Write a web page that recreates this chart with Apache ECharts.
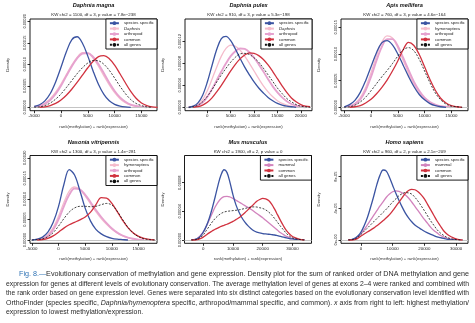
<!DOCTYPE html>
<html>
<head>
<meta charset="utf-8">
<script src="https://cdn.jsdelivr.net/npm/echarts@6/dist/echarts.min.js"></script>
<style>
  html, body { margin: 0; padding: 0; background: #fff; }
  #chart { width: 475px; height: 323px; }
</style>
</head>
<body>
<div id="chart"></div>
<script>
// Density values are stored in units of 1e-5.
const DENSITY_UNIT = 1e-5;

// Sample points along rank(methylation) + rank(expression)
const xSmall = [-5000,-4000,-3000,-2000,-1000,0,1000,2000,3000,4000,5000,6000,7000,8000,9000,10000,11000,12000,13000,14000,15000,16000,17000,18000];
const xPulex = [-4000,-3000,-2000,-1000,0,1000,2000,3000,4000,5000,6000,7000,8000,9000,10000,11000,12000,13000,14000,15000,16000,17000,18000,19000,20000,21000,22000];
const xMus = [-4000,-3000,-2000,-1000,0,1000,2000,3000,4000,5000,6000,7000,8000,9000,10000,11000,12000,13000,14000,15000,16000,17000,18000,19000,20000,21000,22000,23000,24000,25000,26000,27000,28000,29000,30000,31000,32000,33000,34000];
const xHomo = [-4000,-3000,-2000,-1000,0,1000,2000,3000,4000,5000,6000,7000,8000,9000,10000,11000,12000,13000,14000,15000,16000,17000,18000,19000,20000,21000,22000,23000,24000,25000,26000,27000,28000,29000,30000,31000,32000];

// Daphnia magna
const magnaSpecies   = [0.2,0.6,1.5,3.2,5.9,9.3,12.9,15.7,16.4,14.9,11.9,8.4,5.3,3.0,1.5,0.7,0.3,0.1,0,null,null,null,null,null];
const magnaDaphnia   = [0.1,0.4,1.0,2.0,3.5,5.4,7.6,9.8,11.6,12.7,12.6,11.4,9.5,7.3,5.2,3.4,2.0,1.1,0.5,0.2,0.1,0,null,null];
const magnaArthropod = [0.1,0.3,0.8,1.7,3.1,5.0,7.3,9.5,11.4,12.5,12.6,11.7,10.0,7.9,5.7,3.8,2.3,1.3,0.6,0.3,0.1,0,null,null];
const magnaCommon    = [null,0,0.1,0.4,0.9,1.7,2.8,4.2,5.8,7.5,9.2,10.7,11.8,12.0,11.3,9.8,7.8,5.7,3.7,2.1,1.0,0.4,0.1,0];
const magnaAll       = [0,0.1,0.4,1.0,1.9,3.1,4.6,6.2,7.8,9.2,10.3,10.9,10.8,10.0,8.6,6.8,4.9,3.2,1.8,0.9,0.4,0.1,0,null];

// Daphnia pulex
const pulexSpecies   = [0,0.2,0.8,2.2,4.6,7.6,10.5,12.5,12.9,12.1,10.6,8.9,7.3,5.9,4.6,3.5,2.6,1.8,1.2,0.7,0.4,0.2,0.1,0,null,null,null];
const pulexDaphnia   = [0,0.1,0.5,1.4,3.0,5.1,7.3,9.3,10.7,11.3,11.1,10.4,9.3,8.0,6.6,5.2,3.9,2.8,1.9,1.2,0.7,0.4,0.2,0.1,0,null,null];
const pulexArthropod = [0,0.1,0.3,0.9,1.9,3.3,4.9,6.5,8.0,9.3,10.2,10.7,10.6,10.0,9.0,7.8,6.5,5.1,3.8,2.7,1.8,1.1,0.6,0.3,0.1,0,null];
const pulexCommon    = [null,0,0.1,0.4,0.9,1.7,2.8,4.0,5.3,6.6,7.8,8.8,9.5,9.9,9.8,9.4,8.7,7.7,6.5,5.2,3.9,2.7,1.7,1.0,0.5,0.2,0.1];
const pulexAll       = [0,0.1,0.4,1.0,2.0,3.2,4.6,5.9,7.1,8.2,9.1,9.7,9.8,9.6,9.0,8.2,7.1,5.9,4.7,3.5,2.5,1.6,1.0,0.5,0.2,0.1,0];

// Apis mellifera
const apisSpecies     = [0.1,0.5,1.3,2.8,5.0,7.6,10.2,12.1,12.5,11.7,10.0,7.9,5.8,3.9,2.4,1.4,0.7,0.3,0.1,0,null,null,null,null];
const apisHymenoptera = [0,0.2,0.7,1.8,3.7,6.5,9.6,12.2,13.4,13.0,11.2,8.8,6.4,4.3,2.7,1.6,0.9,0.4,0.2,0.1,0,null,null,null];
const apisArthropod   = [0,0.2,0.6,1.5,3.2,5.7,8.7,11.3,12.8,12.8,11.5,9.3,7.0,4.8,3.1,1.8,1.0,0.5,0.2,0.1,0,null,null,null];
const apisCommon      = [null,0,0.1,0.3,0.8,1.5,2.5,3.7,5.1,6.8,8.7,10.8,12.2,11.6,9.9,7.6,5.2,3.2,1.7,0.8,0.3,0.1,0,null];
const apisAll         = [0,0.1,0.4,1.0,1.9,3.1,4.4,5.7,6.9,8.2,9.6,10.8,11.2,10.6,9.0,6.8,4.6,2.7,1.4,0.6,0.2,0.1,0,null];

// Nasonia vitripennis
const nasoniaSpecies     = [0,0.2,0.7,1.9,4.3,8.2,13.5,17.1,15.8,12.0,7.7,4.6,2.6,1.5,0.8,0.4,0.2,0.1,0,null,null,null,null,null];
const nasoniaHymenoptera = [0,0.1,0.4,1.3,3.0,5.8,9.1,11.9,12.9,12.3,10.7,8.8,6.9,5.2,3.8,2.6,1.7,1.0,0.6,0.3,0.1,0,null,null];
const nasoniaArthropod   = [0,0.1,0.3,1.0,2.5,5.0,8.2,11.0,12.5,12.3,11.0,9.2,7.3,5.6,4.1,2.8,1.8,1.1,0.6,0.3,0.1,0,null,null];
const nasoniaCommon      = [null,0,0.1,0.4,1.0,1.9,2.9,3.7,4.3,4.9,5.6,6.8,8.6,10.3,10.2,8.9,6.9,4.8,3.0,1.7,0.9,0.4,0.15,0.05];
const nasoniaAll         = [0,0.1,0.3,0.8,1.8,3.4,5.2,6.8,7.8,8.2,8.2,8.1,8.2,8.6,8.9,8.5,7.0,5.0,3.1,1.7,0.8,0.3,0.1,0];

// Mus musculus
const musSpecies = [0,0.05,0.2,0.5,1.1,1.9,3.0,4.4,6.0,7.7,9.1,9.8,9.4,8.0,6.3,4.9,3.9,3.1,2.5,2.0,1.6,1.3,1.1,1.0,0.9,0.85,0.8,0.75,0.7,0.6,0.5,0.4,0.3,0.2,0.15,0.1,0.05,0.02,0];
const musMammal  = [0,0.05,0.2,0.6,1.1,1.9,2.8,3.7,4.6,5.3,5.8,6.05,6.1,6.0,5.8,5.55,5.3,5.05,4.8,4.55,4.3,4.0,3.7,3.4,3.1,2.75,2.4,2.05,1.7,1.35,1.0,0.75,0.5,0.35,0.2,0.1,0.05,0.02,0];
const musCommon  = [0,0,0.05,0.2,0.4,0.7,1.0,1.25,1.5,1.7,1.9,2.05,2.2,2.4,2.6,2.85,3.1,3.45,3.8,4.2,4.6,5.0,5.4,5.65,5.8,5.75,5.5,5.0,4.3,3.5,2.7,1.95,1.3,0.85,0.5,0.3,0.15,0.05,0];
const musAll     = [0,0.03,0.1,0.35,0.7,1.3,1.9,2.5,3.0,3.4,3.7,3.9,4.0,4.05,4.1,4.15,4.2,4.3,4.4,4.5,4.6,4.62,4.6,4.5,4.4,4.2,3.9,3.5,3.0,2.45,1.9,1.4,0.9,0.55,0.3,0.18,0.1,0.04,0];

// Homo sapiens
const homoSpecies = [0,0.05,0.2,0.5,1.0,1.8,2.8,4.1,5.5,7.0,8.2,8.85,8.7,7.9,6.9,5.9,5.0,4.15,3.4,2.8,2.3,1.9,1.6,1.35,1.1,0.9,0.7,0.55,0.4,0.3,0.2,0.1,0.05,0.02,0,null,null];
const homoMammal  = [0,0.03,0.1,0.4,0.8,1.3,1.9,2.5,3.1,3.7,4.3,4.85,5.4,5.8,6.1,6.2,6.15,5.95,5.7,5.3,4.8,4.25,3.7,3.15,2.6,2.1,1.6,1.2,0.9,0.6,0.4,0.25,0.15,0.08,0.05,0.02,0];
const homoCommon  = [0,0,0.05,0.2,0.5,0.75,1.0,1.25,1.5,1.8,2.1,2.45,2.8,3.2,3.7,4.25,4.8,5.35,5.9,6.25,6.4,6.35,6.1,5.7,5.2,4.5,3.8,3.1,2.4,1.8,1.2,0.8,0.5,0.3,0.15,0.05,0];
const homoAll     = [0,0.03,0.1,0.35,0.7,1.1,1.5,1.9,2.3,2.7,3.1,3.5,3.9,4.35,4.8,5.2,5.6,5.85,6.0,5.95,5.8,5.4,4.9,4.3,3.7,3.05,2.4,1.85,1.3,0.9,0.6,0.35,0.2,0.1,0.05,0.02,0];

// Tick labels
const xTicksSmall = [-5000, 0, 5000, 10000, 15000];
const xTicksPulex = [0, 5000, 10000, 15000, 20000];
const xTicksMammal = [0, 10000, 20000, 30000];
const yTicks5 = [0, 0.00005, 0.0001, 0.00015, 0.0002];
const yTicks5short = [0, 0.00005, 0.0001, 0.00015];
const yTicks4 = [0, 0.00004, 0.00008, 0.00012];
const yTicksHomo = [0, 0.00004, 0.00008];

// Panel titles and test statistics
const speciesNames = ['Daphnia magna', 'Daphnia pulex', 'Apis mellifera', 'Nasonia vitripennis', 'Mus musculus', 'Homo sapiens'];
const statLines = [
  'KW chi2 = 1100, df = 3, p value = 7.8e\u2212238',
  'KW chi2 = 910, df = 3, p value = 5.3e\u2212198',
  'KW chi2 = 760, df = 3, p value = 4.6e\u2212164',
  'KW chi2 = 1300, df = 3, p value = 1.4e\u2212281',
  'KW chi2 = 1900, df = 2, p value = 0',
  'KW chi2 = 960, df = 2, p value = 2.1e\u2212209'
];

// Line styles per conservation class
const STYLE = {
  species:   { color: '#3b54a2', width: 1.3 },
  lineage:   { color: '#f5bccc', width: 1.3 },
  arthropod: { color: '#e6a2cf', width: 1.9 },
  mammal:    { color: '#d283bd', width: 1.3 },
  common:    { color: '#d1323f', width: 1.3 },
  all:       { color: '#111111', width: 0.8, type: [2, 1.5] }
};

const fixed5 = v => v.toFixed(5);
const sci = v => v.toExponential(0).replace(/e([+-])(\d)$/, 'e$10$2');

const panels = [
  { xs: xSmall, xTicks: xTicksSmall, yTicks: yTicks5, yFmt: fixed5,
    lines: [['Daphnia', magnaDaphnia, 'lineage'], ['arthropod', magnaArthropod, 'arthropod'], ['species specific', magnaSpecies, 'species'], ['common', magnaCommon, 'common'], ['all genes', magnaAll, 'all']],
    legend: ['species specific', 'Daphnia', 'arthropod', 'common', 'all genes'] },
  { xs: xPulex, xTicks: xTicksPulex, yTicks: yTicks4, yFmt: fixed5,
    lines: [['Daphnia', pulexDaphnia, 'lineage'], ['arthropod', pulexArthropod, 'arthropod'], ['species specific', pulexSpecies, 'species'], ['common', pulexCommon, 'common'], ['all genes', pulexAll, 'all']],
    legend: ['species specific', 'Daphnia', 'arthropod', 'common', 'all genes'] },
  { xs: xSmall, xTicks: xTicksSmall, yTicks: yTicks5short, yFmt: fixed5,
    lines: [['hymenoptera', apisHymenoptera, 'lineage'], ['arthropod', apisArthropod, 'arthropod'], ['species specific', apisSpecies, 'species'], ['common', apisCommon, 'common'], ['all genes', apisAll, 'all']],
    legend: ['species specific', 'hymenoptera', 'arthropod', 'common', 'all genes'] },
  { xs: xSmall, xTicks: xTicksSmall, yTicks: yTicks5, yFmt: fixed5,
    lines: [['hymenoptera', nasoniaHymenoptera, 'lineage'], ['arthropod', nasoniaArthropod, 'arthropod'], ['species specific', nasoniaSpecies, 'species'], ['common', nasoniaCommon, 'common'], ['all genes', nasoniaAll, 'all']],
    legend: ['species specific', 'hymenoptera', 'arthropod', 'common', 'all genes'] },
  { xs: xMus, xTicks: xTicksMammal, yTicks: yTicks4, yFmt: fixed5,
    lines: [['mammal', musMammal, 'mammal'], ['species specific', musSpecies, 'species'], ['common', musCommon, 'common'], ['all genes', musAll, 'all']],
    legend: ['species specific', 'mammal', 'common', 'all genes'] },
  { xs: xHomo, xTicks: xTicksMammal, yTicks: yTicksHomo, yFmt: sci,
    lines: [['mammal', homoMammal, 'mammal'], ['species specific', homoSpecies, 'species'], ['common', homoCommon, 'common'], ['all genes', homoAll, 'all']],
    legend: ['species specific', 'mammal', 'common', 'all genes'] }
];

// Plot boxes (pixels) and axis extents (x in rank units, y in DENSITY_UNIT)
const layout = [
  { box: [30, 19, 127, 91.7],    x: [-5780, 17900], y: [-0.79, 20.53] },
  { box: [185, 19, 127, 91.7],   x: [-4780, 22400], y: [-0.62, 16.05] },
  { box: [341, 19, 127, 91.7],   x: [-5600, 18100], y: [-0.64, 16.57] },
  { box: [30, 155.5, 127, 87.8], x: [-5350, 18450], y: [-0.80, 20.56] },
  { box: [184.5, 155.5, 127, 87.8], x: [-6300, 36400], y: [-0.46, 11.79] },
  { box: [341, 155.5, 127, 87.8],   x: [-6300, 33750], y: [-0.42, 10.68] }
];

const FONT = 'Liberation Sans, Arial, sans-serif';
const grids = [], xAxes = [], yAxes = [], series = [], legends = [], texts = [];

panels.forEach((p, i) => {
  const L = layout[i];
  const [left, top, w, h] = L.box;
  grids.push({ left, top, width: w, height: h, show: true, borderColor: '#000', borderWidth: 0.9, backgroundColor: 'transparent', containLabel: false });
  xAxes.push({
    type: 'value', gridIndex: i, min: L.x[0], max: L.x[1], position: 'bottom',
    axisLine: { show: false, onZero: false }, splitLine: { show: false },
    axisTick: { show: true, inside: false, length: 2.5, lineStyle: { color: '#000', width: 0.8 }, customValues: p.xTicks },
    axisLabel: { show: true, fontSize: 4.4, color: '#222', margin: 3.5, fontFamily: FONT, customValues: p.xTicks, formatter: v => String(v) },
    name: 'rank(methylation) + rank(expression)', nameLocation: 'middle', nameGap: 14,
    nameTextStyle: { fontSize: 4.2, color: '#333', fontFamily: FONT }
  });
  yAxes.push({
    type: 'value', gridIndex: i, min: L.y[0] * DENSITY_UNIT, max: L.y[1] * DENSITY_UNIT, position: 'left',
    axisLine: { show: false, onZero: false }, splitLine: { show: false },
    axisTick: { show: true, inside: false, length: 2.5, lineStyle: { color: '#000', width: 0.8 }, customValues: p.yTicks },
    axisLabel: { show: true, rotate: 90, fontSize: 4, color: '#222', margin: 3, fontFamily: FONT, customValues: p.yTicks, formatter: p.yFmt },
    name: 'Density', nameLocation: 'middle', nameGap: 20, nameRotate: 90,
    nameTextStyle: { fontSize: 4.2, color: '#333', fontFamily: FONT }
  });
  p.lines.forEach(([name, ys, kind], k) => {
    const st = STYLE[kind];
    const s = {
      type: 'line', name, xAxisIndex: i, yAxisIndex: i,
      data: p.xs.map((x, j) => [x, ys[j] == null ? null : ys[j] * DENSITY_UNIT]),
      showSymbol: false, symbol: 'none', smooth: 0.35, connectNulls: false,
      lineStyle: { color: st.color, width: st.width, type: st.type || 'solid' },
      itemStyle: { color: st.color }, z: 3 + k, animation: false, silent: true
    };
    if (k === 0) {
      s.markLine = {
        silent: true, symbol: 'none', label: { show: false }, animation: false,
        lineStyle: { color: '#c4c4c4', width: 1, type: 'solid' },
        data: [{ yAxis: 0 }]
      };
    }
    series.push(s);
  });
  legends.push({
    orient: 'vertical', right: 475 - (left + w), top,
    data: p.legend.map(n => (n === 'Daphnia' ? { name: n, textStyle: { fontStyle: 'italic' } } : n)),
    itemWidth: 9, itemHeight: 4.6, itemGap: 1.4, padding: [2.2, 3, 2.2, 3],
    borderColor: '#000', borderWidth: 0.9, borderRadius: 0, backgroundColor: '#fff',
    textStyle: { fontSize: 4.3, color: '#222', fontFamily: FONT },
    selectedMode: false
  });
  const cx = left + w / 2;
  texts.push({ type: 'text', x: cx, y: top - 13.3, silent: true,
    style: { text: speciesNames[i], font: 'italic bold 5.6px ' + FONT, fill: '#111', align: 'center', verticalAlign: 'middle' } });
  texts.push({ type: 'text', x: cx, y: top - 4.2, silent: true,
    style: { text: statLines[i], font: '4.4px ' + FONT, fill: '#222', align: 'center', verticalAlign: 'middle' } });
});

// Figure caption: each line is stretched to the column width (the last line keeps the mean stretch)
const CAP_SIZE = 7.2;
const CAP_FONTS = {
  n:   CAP_SIZE + 'px ' + FONT,
  i:   'italic ' + CAP_SIZE + 'px ' + FONT,
  fig: CAP_SIZE + 'px ' + FONT
};
const captionLines = [
  [['fig', 'Fig. 8.\u2014'], ['n', 'Evolutionary conservation of methylation and gene expression. Density plot for the sum of ranked order of DNA methylation and gene']],
  [['n', 'expression for genes at different levels of evolutionary conservation. The average methylation level of genes at exons 2\u20134 were ranked and combined with']],
  [['n', 'the rank order based on gene expression level. Genes were separated into six distinct categories based on the evolutionary conservation level identified with']],
  [['n', 'OrthoFinder (species specific, '], ['i', 'Daphnia/hymenoptera'], ['n', ' specific, arthropod/mammal specific, and common). '], ['i', 'x'], ['n', ' axis from right to left: highest methylation/']],
  [['n', 'expression to lowest methylation/expression.']]
];
const captionLeft = [19, 6, 6, 6, 6];
const captionRight = 469;
const captionY = [274, 283.6, 293.2, 302.8, 312.4];

const measure = document.createElement('canvas').getContext('2d');
const lineWidth = segs => segs.reduce((sum, [k, t]) => { measure.font = CAP_FONTS[k]; return sum + measure.measureText(t).width; }, 0);
const stretch = captionLines.map((segs, k) => (captionRight - captionLeft[k]) / lineWidth(segs));
const meanStretch = (stretch[0] + stretch[1] + stretch[2] + stretch[3]) / 4;

captionLines.forEach((segs, k) => {
  texts.push({
    type: 'text', x: captionLeft[k], y: captionY[k], silent: true,
    scaleX: k === captionLines.length - 1 ? meanStretch : stretch[k],
    style: {
      text: segs.map(([key, t]) => '{' + key + '|' + t + '}').join(''),
      font: CAP_FONTS.n, fill: '#2a2a2a', align: 'left', verticalAlign: 'middle',
      rich: {
        n:   { font: CAP_FONTS.n, fill: '#2a2a2a' },
        i:   { font: CAP_FONTS.i, fill: '#2a2a2a' },
        fig: { font: CAP_FONTS.fig, fill: '#2f73b5' }
      }
    }
  });
});

const chart = echarts.init(document.getElementById('chart'), null, { renderer: 'canvas' });
chart.setOption({
  animation: false,
  backgroundColor: '#fff',
  grid: grids, xAxis: xAxes, yAxis: yAxes, series, legend: legends,
  graphic: { elements: texts }
});
</script>
</body>
</html>
